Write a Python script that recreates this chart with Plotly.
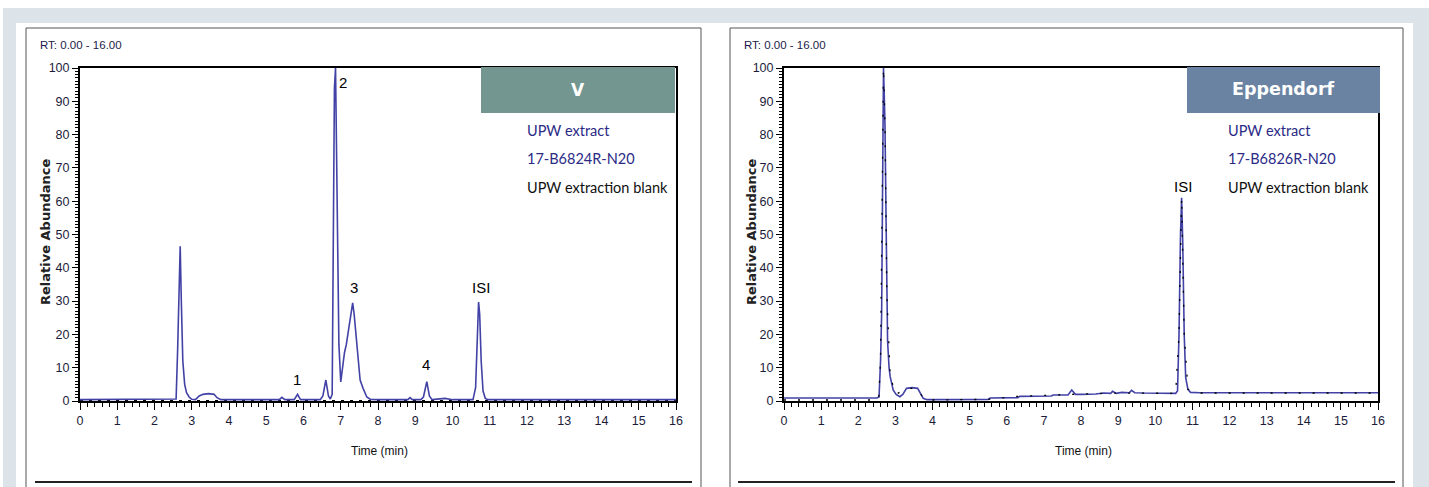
import plotly.graph_objects as go

W, H = 1429, 487

# ---------------- data ----------------
# Left panel (V): UPW extract 17-B6824R-N20
time_v = [0, 0.5, 1.0, 1.5, 2.0, 2.5, 2.58, 2.62, 2.66, 2.69, 2.72, 2.76, 2.81, 2.86,
          2.93, 3.0, 3.1, 3.2, 3.3, 3.45, 3.6, 3.68, 3.78, 4.0, 4.5, 5.0, 5.35, 5.42,
          5.5, 5.75, 5.84, 5.92, 6.0, 6.45, 6.52, 6.6, 6.67, 6.72, 6.77, 6.8, 6.83,
          6.86, 6.88, 6.9, 6.92, 6.95, 7.0, 7.05, 7.1, 7.15, 7.2, 7.28, 7.32, 7.36,
          7.43, 7.52, 7.6, 7.7, 7.8, 8.0, 8.5, 8.8, 8.86, 8.92, 9.15, 9.22, 9.31,
          9.38, 9.45, 9.8, 10.0, 10.55, 10.62, 10.66, 10.7, 10.73, 10.77, 10.82,
          10.88, 10.95, 11.5, 12, 13, 14, 15, 16]
abund_v = [0.4, 0.4, 0.4, 0.4, 0.4, 0.4, 0.6, 15, 40, 46.5, 30, 12, 5, 2.5,
           1.2, 0.5, 0.4, 1.5, 2.0, 2.2, 2.0, 1.0, 0.4, 0.4, 0.4, 0.4, 0.4, 1.1,
           0.4, 0.4, 2.0, 0.4, 0.4, 0.4, 1.5, 6.3, 1.5, 0.6, 2.0, 45, 94,
           100, 80, 53, 32, 17, 5.7, 10, 14.5, 17, 20.5, 27, 29.5, 26,
           17, 6.3, 3.8, 1.2, 0.5, 0.4, 0.4, 0.4, 1.0, 0.4, 0.4, 1.2, 5.8,
           1.5, 0.4, 0.8, 0.4, 0.4, 4, 18, 29.7, 26, 12, 3,
           0.8, 0.4, 0.4, 0.4, 0.4, 0.4, 0.4, 0.4]
blank_time_v = [0, 2.55, 2.6, 4.0, 8.0, 12.0, 16]
blank_abund_v = [0.15, 0.15, 0.2, 0.15, 0.15, 0.15, 0.15]

# Right panel (Eppendorf): UPW extract 17-B6826R-N20
time_e = [0, 0.5, 1.0, 1.5, 2.0, 2.5, 2.56, 2.6, 2.63, 2.65, 2.68, 2.7, 2.72, 2.75,
          2.77, 2.79, 2.83, 2.86, 2.94, 3.02, 3.12, 3.2, 3.3, 3.45, 3.6, 3.66, 3.75,
          3.85, 4.0, 4.5, 5.0, 5.5, 5.55, 6.3, 6.35, 7.2, 7.25, 7.65, 7.75, 7.85,
          8.0, 8.4, 8.6, 8.8, 8.85, 8.95, 9.1, 9.3, 9.36, 9.45, 9.7, 10.0, 10.3,
          10.55, 10.6, 10.64, 10.68, 10.71, 10.74, 10.78, 10.82, 10.88, 10.95, 11.2,
          12, 13, 14, 15, 16]
abund_e = [0.9, 0.9, 0.9, 0.9, 0.9, 0.9, 1.2, 12, 26, 69, 100, 92, 83, 54,
           32, 18, 10, 7.3, 3.3, 2.0, 1.3, 2.0, 3.8, 4.0, 3.8, 2.5, 0.8,
           0.4, 0.4, 0.4, 0.4, 0.5, 0.9, 1.0, 1.4, 1.5, 1.8, 1.8, 3.3, 2.0,
           2.0, 2.1, 2.4, 2.3, 2.9, 2.3, 2.6, 2.5, 3.2, 2.5, 2.4, 2.3, 2.3,
           2.3, 3.0, 20, 50, 61, 48, 20, 7, 3.5, 2.6, 2.5,
           2.5, 2.5, 2.5, 2.5, 2.5]
blank_time_e = [0, 2.55, 2.6, 2.65, 2.68, 2.72, 2.77, 2.86, 3.02, 3.3, 3.6, 3.75, 4.0,
                5.5, 6.3, 7.75, 9.0, 10.55, 10.64, 10.71, 10.78, 10.88, 11.2, 16]
blank_abund_e = [0.3, 0.3, 12, 69, 100, 83, 32, 7.3, 2.0, 3.8, 3.8, 0.8, 0.3,
                 0.5, 1.4, 2.0, 2.4, 2.3, 20, 61, 20, 3.5, 2.4, 2.4]

x_ticks = list(range(0, 17))
y_ticks = list(range(0, 101, 10))

peak_labels_v = ["2", "3", "1", "4", "ISI"]
peak_x_v = [7.06, 7.35, 5.83, 9.29, 10.76]
peak_y_v = [95.5, 34.0, 6.5, 11.0, 34.0]
peak_labels_e = ["ISI"]
peak_x_e = [10.75]
peak_y_e = [64.5]

legend_lines_v = ["UPW extract", "17-B6824R-N20", "UPW extraction blank"]
legend_lines_e = ["UPW extract", "17-B6826R-N20", "UPW extraction blank"]
legend_colors = ["#2b2b86", "#2b2b86", "#111111"]

# ---------------- helpers ----------------
def px(x):
    return x / W

def py(y):
    return 1 - y / H

BLUE = "#4242a6"
SANS = "Liberation Sans, Arial"
TICKCOL = "#1c1c3a"

fig = go.Figure()

fig.add_trace(go.Scatter(x=blank_time_v, y=blank_abund_v, mode="lines",
                         line=dict(color="black", width=1.2, dash="3px,6px"),
                         xaxis="x", yaxis="y", showlegend=False))
fig.add_trace(go.Scatter(x=time_v, y=abund_v, mode="lines",
                         line=dict(color=BLUE, width=1.6),
                         xaxis="x", yaxis="y", showlegend=False))
fig.add_trace(go.Scatter(x=time_e, y=abund_e, mode="lines",
                         line=dict(color=BLUE, width=1.6),
                         xaxis="x2", yaxis="y2", showlegend=False))
fig.add_trace(go.Scatter(x=blank_time_e, y=blank_abund_e, mode="lines",
                         line=dict(color="black", width=1.3, dash="2px,12px"),
                         xaxis="x2", yaxis="y2", showlegend=False))

def xaxis_def(dom, anchor):
    return dict(domain=dom, range=[0, 16], tickvals=x_ticks, ticks="outside",
                ticklen=7, tickwidth=1.4, tickcolor="black",
                minor=dict(dtick=0.2, tick0=0, ticks="outside", ticklen=4,
                           tickwidth=1, tickcolor="black"),
                showline=True, linewidth=2, linecolor="black", mirror=True,
                showgrid=False, zeroline=False, anchor=anchor, automargin=False,
                tickfont=dict(family=SANS, size=12.5, color=TICKCOL))

def yaxis_def(dom, anchor):
    return dict(domain=dom, range=[0, 100], tickvals=y_ticks, ticks="outside",
                ticklen=6, tickwidth=1.4, tickcolor="black",
                minor=dict(dtick=1, tick0=0, ticks="outside", ticklen=3,
                           tickwidth=1, tickcolor="black"),
                showline=True, linewidth=2, linecolor="black", mirror=True,
                showgrid=False, zeroline=False, anchor=anchor, automargin=False,
                tickfont=dict(family=SANS, size=12.5, color=TICKCOL))

ydom = [py(401), py(68)]

shapes = [
    dict(type="rect", xref="paper", yref="paper", x0=px(3), x1=px(1429), y0=py(487), y1=py(8),
         fillcolor="#dce3e9", line=dict(width=0), layer="below"),
    dict(type="rect", xref="paper", yref="paper", x0=px(16), x1=px(1413), y0=py(487), y1=py(23),
         fillcolor="white", line=dict(width=0), layer="below"),
    dict(type="rect", xref="paper", yref="paper", x0=px(26), x1=px(701), y0=py(495), y1=py(28),
         line=dict(color="#555555", width=1), layer="below"),
    dict(type="rect", xref="paper", yref="paper", x0=px(730), x1=px(1403), y0=py(495), y1=py(28),
         line=dict(color="#555555", width=1), layer="below"),
    dict(type="line", xref="paper", yref="paper", x0=px(35), x1=px(692), y0=py(482), y1=py(482),
         line=dict(color="#222222", width=2)),
    dict(type="line", xref="paper", yref="paper", x0=px(738), x1=px(1395), y0=py(482), y1=py(482),
         line=dict(color="#222222", width=2)),
    dict(type="rect", xref="paper", yref="paper", x0=px(481), x1=px(675), y0=py(113), y1=py(67),
         fillcolor="#739690", line=dict(width=0), layer="above"),
    dict(type="rect", xref="paper", yref="paper", x0=px(1187), x1=px(1380), y0=py(113), y1=py(67),
         fillcolor="#6a83a2", line=dict(width=0), layer="above"),
]

annotations = []

def ann(text, x, y, size, color="black", family=SANS, xanchor="center", angle=0, bold=False):
    if bold:
        text = "<b>" + text + "</b>"
    annotations.append(dict(text=text, x=px(x), y=py(y), xref="paper", yref="paper",
                            showarrow=False, xanchor=xanchor, yanchor="middle",
                            textangle=angle, font=dict(family=family, size=size, color=color)))

ann("RT: 0.00 - 16.00", 38, 45, 11.5, color="#1c1c4a", xanchor="left")
ann("RT: 0.00 - 16.00", 742, 45, 11.5, color="#1c1c4a", xanchor="left")
ann("Relative Abundance", 46, 232, 13, color="#222222", family="DejaVu Sans, Liberation Sans",
    angle=-90, bold=True)
ann("Relative Abundance", 752, 232, 13, color="#222222", family="DejaVu Sans, Liberation Sans",
    angle=-90, bold=True)
ann("Time (min)", 379, 451, 12, color="#111111")
ann("Time (min)", 1083, 451, 12, color="#111111")
ann("V", 578, 90, 17, color="white", family="DejaVu Sans, Liberation Sans", bold=True)
ann("Eppendorf", 1283, 89, 17.5, color="white", family="DejaVu Sans, Liberation Sans", bold=True)

legend_y = [130, 158, 187]
for txt, col, yy in zip(legend_lines_v, legend_colors, legend_y):
    ann(txt, 525, yy, 14.5, color=col, family="Lato, Liberation Sans", xanchor="left")
for txt, col, yy in zip(legend_lines_e, legend_colors, legend_y):
    ann(txt, 1226, yy, 14.5, color=col, family="Lato, Liberation Sans", xanchor="left")

for lab, xx, yy in zip(peak_labels_v, peak_x_v, peak_y_v):
    annotations.append(dict(text=lab, x=xx, y=yy, xref="x", yref="y", showarrow=False,
                            font=dict(family=SANS, size=15, color="black")))
for lab, xx, yy in zip(peak_labels_e, peak_x_e, peak_y_e):
    annotations.append(dict(text=lab, x=xx, y=yy, xref="x2", yref="y2", showarrow=False,
                            font=dict(family=SANS, size=15, color="black")))

fig.update_layout(
    width=W, height=H,
    margin=dict(l=0, r=0, t=0, b=0, pad=0),
    paper_bgcolor="white", plot_bgcolor="rgba(0,0,0,0)",
    xaxis=xaxis_def([px(80), px(676)], "y"),
    yaxis=yaxis_def(ydom, "x"),
    xaxis2=xaxis_def([px(784), px(1378)], "y2"),
    yaxis2=yaxis_def(ydom, "x2"),
    shapes=shapes, annotations=annotations,
    showlegend=False,
)

fig.write_html("out.html",
               config={"displayModeBar": False},
               post_script="document.body.style.margin='0';document.body.style.overflow='hidden';")
